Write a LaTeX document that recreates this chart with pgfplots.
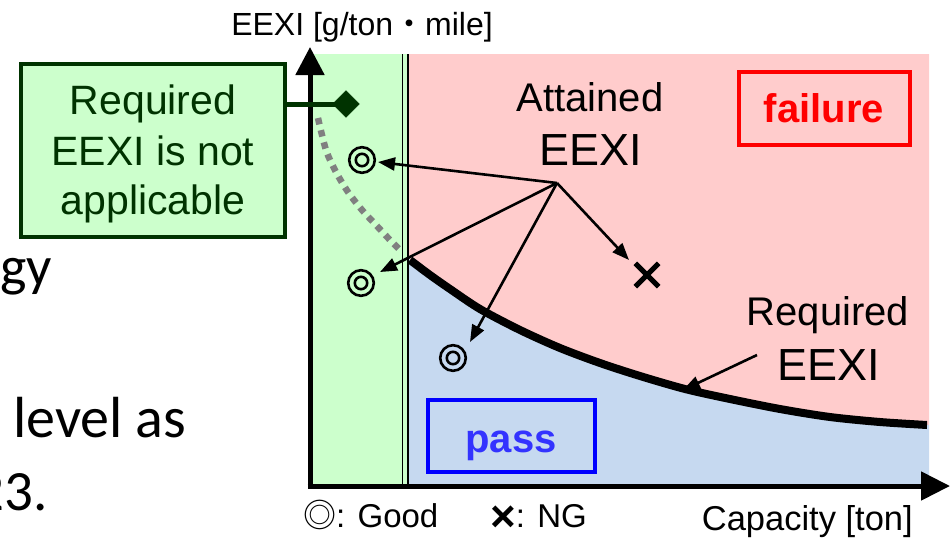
\documentclass[border=0pt]{standalone}
\usepackage{fontspec}
\setmainfont{Liberation Sans}
\newfontfamily\carlito{Carlito}
\newfontfamily\cjk{Noto Sans CJK JP}
\usepackage{pgfplots}
\pgfplotsset{compat=1.18}
\usetikzlibrary{arrows.meta}
\definecolor{bgGreen}{RGB}{204,255,204}
\definecolor{bgPink}{RGB}{255,204,204}
\definecolor{bgBlue}{RGB}{198,217,240}
\definecolor{dGreen}{RGB}{0,51,0}
\definecolor{passBlue}{RGB}{51,51,255}
\newcommand\fs[1]{\fontsize{#1}{#1}\selectfont}
\begin{document}
\begin{tikzpicture}
\begin{axis}[scale only axis, width=951pt, height=542pt,
  xmin=0, xmax=951, ymin=0, ymax=542, y dir=reverse,
  hide axis, clip=false]
% regions
\addplot[fill=bgGreen, draw=none] coordinates {(310,54) (408,54) (408,486) (310,486)} -- cycle;
\addplot[fill=bgPink, draw=none] coordinates {(409,54) (929,54) (929,425) (880,422) (830,417) (780,409) (730,399) (685,389) (640,376) (600,363) (560,348) (520,330) (480,309) (450,289) (430,275) (409,259)} -- cycle;
\addplot[fill=bgBlue, draw=none] coordinates {(409,259) (430,275) (450,289) (480,309) (520,330) (560,348) (600,363) (640,376) (685,389) (730,399) (780,409) (830,417) (880,422) (929,425) (929,486) (409,486)} -- cycle;
% double line
\addplot[black, line width=1.8pt] coordinates {(402.5,54) (402.5,486)};
\addplot[black, line width=1.8pt] coordinates {(407.8,54) (407.8,486)};
% dotted extension
\addplot[gray, line width=6.5pt, dash pattern=on 6.5pt off 6pt, smooth] coordinates {(318,118) (326,150) (336,172) (348,192) (362,210) (376,225) (390,240) (402,252)};
% required curve
\addplot[black, line width=8pt, smooth] coordinates {(410,260) (430,275) (450,289) (480,309) (520,330) (560,348) (600,363) (640,376) (685,389) (730,399) (780,409) (830,417) (880,422) (927,425)};
% axes
\addplot[black, line width=5pt, -{Triangle[length=28pt,width=28pt]}] coordinates {(310,488.5) (310,47)};
\addplot[black, line width=5pt, -{Triangle[length=29pt,width=28pt]}] coordinates {(307.5,486) (950,486)};
% green box and connector
\draw[dGreen, line width=4pt, fill=bgGreen] (21,64) rectangle (285,237);
\addplot[dGreen, line width=5pt] coordinates {(285,104) (340,104)};
\addplot[dGreen, only marks, mark=square*, mark size=9.5pt, mark options={rotate=45, fill=dGreen, draw=dGreen}] coordinates {(346,104)};
\node[anchor=base, inner sep=0, text=dGreen] at (153,114) {\fs{41}Required};
\node[anchor=base, inner sep=0, text=dGreen] at (153,165) {\fs{41}EEXI is not};
\node[anchor=base, inner sep=0, text=dGreen] at (153,214) {\fs{41}applicable};
% annotation arrows
\draw[line width=2.6pt, -{Triangle[length=17pt,width=13pt]}] (557,183) -- (378,162);
\draw[line width=2.6pt, -{Triangle[length=17pt,width=13pt]}] (557,183) -- (380,272);
\draw[line width=2.6pt, -{Triangle[length=17pt,width=13pt]}] (557,183) -- (470,342);
\draw[line width=2.6pt, -{Triangle[length=17pt,width=13pt]}] (557,183) -- (629,260);
\draw[line width=2.6pt, -{Triangle[length=17pt,width=13pt]}] (757,355) -- (683,390);
% markers: good
\addplot[black, only marks, mark=o, mark size=12.8pt, mark options={line width=2.6pt}] coordinates {(362,160) (361,283) (453,358)};
\addplot[black, only marks, mark=o, mark size=6.2pt, mark options={line width=2.6pt}] coordinates {(362,160) (361,283) (453,358)};
% marker: NG
\addplot[black, only marks, mark=x, mark size=16.5pt, mark options={line width=5pt}] coordinates {(647,275)};
% texts
\node[anchor=base, inner sep=0] at (590,111) {\fs{40}Attained};
\node[anchor=base, inner sep=0] at (591,165) {\fs{45}EEXI};
\node[anchor=base, inner sep=0] at (828,325) {\fs{40}Required};
\node[anchor=base, inner sep=0] at (829,380) {\fs{45}EEXI};
\draw[red, line width=4pt] (739,72) rectangle (910,145);
\node[anchor=base, inner sep=0, text=red] at (824,122) {\fs{40}\bfseries failure};
\draw[blue, line width=4pt] (428,400) rectangle (595,472);
\node[anchor=base, inner sep=0, text=passBlue] at (511,452) {\fs{40}\bfseries pass};
% axis labels
\node[anchor=base, inner sep=0] at (362,35) {\fs{32}EEXI [g/ton{\cjk ・}mile]};
\node[anchor=base east, inner sep=0] at (913,530) {\fs{34.5}Capacity [ton]};
\node[anchor=base west, inner sep=0] at (303,527) {\fs{33}{\cjk ◎}: Good};
\node[anchor=base west, inner sep=0] at (490,527) {\fs{33}\raisebox{-4pt}{\fs{44}\bfseries ×}: NG};
% slide fragments
\node[anchor=base west, inner sep=0] at (0,285) {\carlito\fs{56}gy};
\node[anchor=base west, inner sep=0] at (13,437) {\carlito\fs{58}level as};
\node[anchor=base east, inner sep=0] at (48,510) {\carlito\fs{57}23.};
\end{axis}
\pgfresetboundingbox
\path[use as bounding box] (0,0) rectangle (951pt,542pt);
\end{tikzpicture}
\end{document}
